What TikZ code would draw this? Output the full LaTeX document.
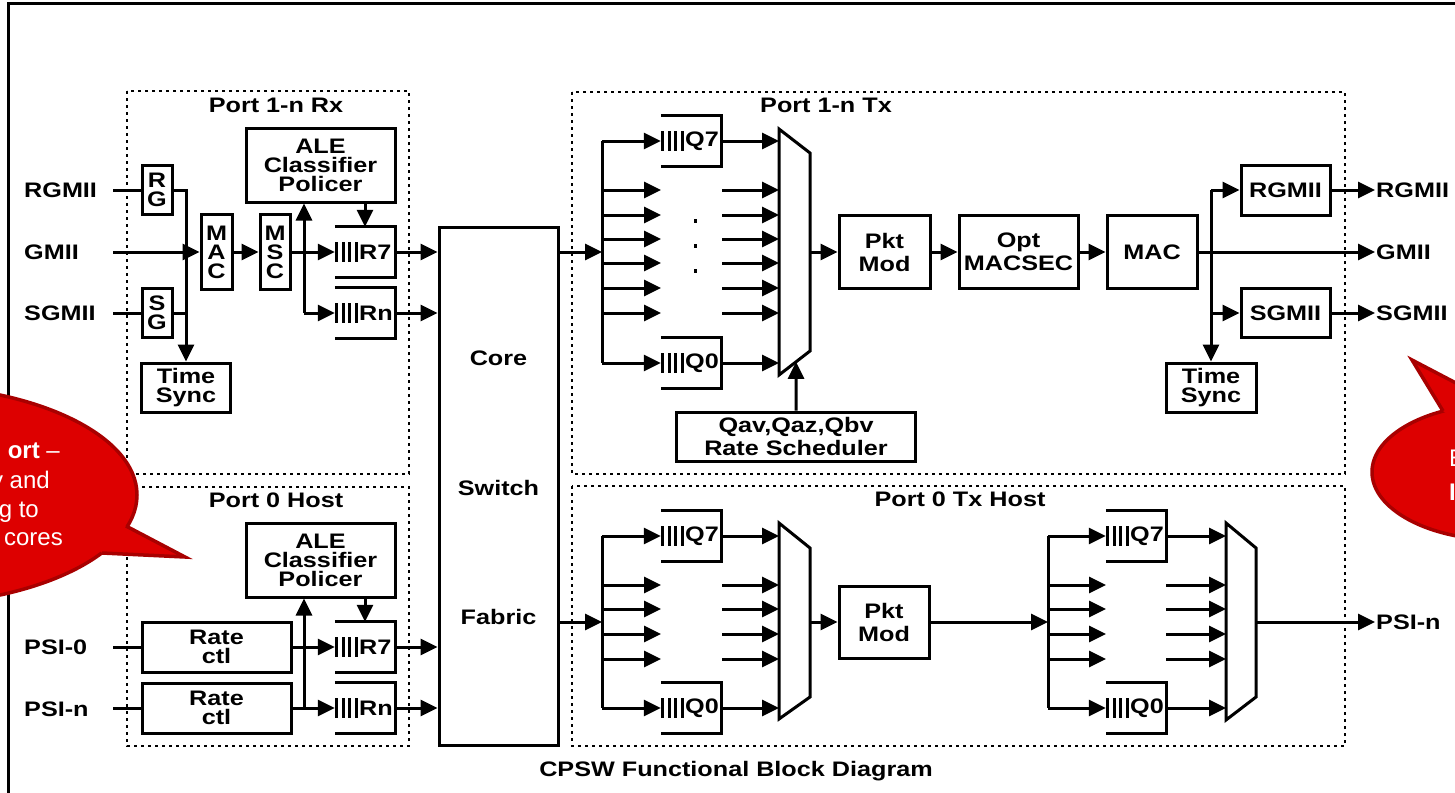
\documentclass[tikz,border=0pt]{standalone}
\usepackage{fontspec}
\setmainfont{Liberation Sans}[FakeStretch=1.2]
\newfontfamily\callfont{Liberation Sans}
\usetikzlibrary{arrows.meta,calc}
\definecolor{calloutred}{RGB}{221,0,0}
\definecolor{calloutedge}{RGB}{168,0,0}
% queue: name, left x, centre y, label
\newcommand{\fifo}[4]{%
  \node[qn] (#1) at ({#2+30},#3) {};
  \draw[ln] (#1.north west) -- (#1.north east) -- (#1.south east) -- (#1.south west);
  \foreach \k in {1.5,8,14.5,21.5}{\draw[qbar] ({#2+\k},{#3-10}) -- ({#2+\k},{#3+10});}
  \node[lbl,anchor=west] (#1lbl) at ({#2+24},#3) {#4};
}
\begin{document}
\begin{tikzpicture}[x=1pt,y=-1pt,
  ln/.style={line width=3pt},
  arr/.style={line width=3pt,-{Triangle[length=17pt,width=16pt]}},
  qbar/.style={line width=3pt},
  blk/.style={draw,line width=3pt,inner sep=0pt,align=center,font=\fontsize{21}{19}\selectfont\bfseries},
  loosesp/.style={font=\fontsize{21}{23}\selectfont\bfseries},
  sz/.style 2 args={minimum width=#1pt,minimum height=#2pt},
  lbl/.style={inner sep=0pt,font=\fontsize{21}{19}\selectfont\bfseries},
  qn/.style={inner sep=0pt,minimum width=60pt,minimum height=50pt},
  portbox/.style={line width=2.8pt,dash pattern=on 2.8pt off 4.2pt},
  redcall/.style={fill=calloutred,draw=calloutedge,line width=3.5pt},
  redfill/.style={fill=calloutred},
  rededge/.style={draw=calloutedge,line width=3.5pt,line join=miter},
  calltext/.style={text=white,inner sep=0pt,font=\callfont\fontsize{24}{29}\selectfont},
]
\useasboundingbox (0,0) rectangle (1455,792);
\clip (0,0) rectangle (1455,792);
\fill[white] (0,0) rectangle (1455,792);

% outer frame
\draw[line width=3pt] (8,4) rectangle (1520,860);

% dotted port regions
\draw[portbox] (127,91) rectangle (409,474);
\draw[portbox] (127,487) rectangle (409,746);
\draw[portbox] (572,92) rectangle (1345,474);
\draw[portbox] (572,486) rectangle (1345,746);
\node[lbl] (t1) at (276,105) {Port 1-n Rx};
\node[lbl] (t2) at (276,500) {Port 0 Host};
\node[lbl] (t3) at (826,105) {Port 1-n Tx};
\node[lbl] (t4) at (960,499) {Port 0 Tx Host};
\node[lbl] (title) at (736,771) {CPSW Functional Block Diagram};

\coordinate (lx) at (113,0);

% ---------------- Port 1-n Rx ----------------
\node[lbl,anchor=west] (inRG) at (24,190) {RGMII};
\node[lbl,anchor=west] (inGM) at (24,252) {GMII};
\node[lbl,anchor=west] (inSG) at (24,313) {SGMII};
\node[blk,sz={30}{49}] (rg) at (157,190) {R\\G};
\node[blk,sz={30}{49}] (sg) at (157,313) {S\\G};
\node[blk,sz={31}{75}] (mac) at (216.5,252) {M\\A\\C};
\node[blk,sz={30}{75}] (msc) at (275,252) {M\\S\\C};
\node[blk,sz={149}{74}] (ale1) at (320.5,165) {ALE\\Classifier\\Policer};
\node[blk,sz={89}{49}] (ts1) at (186,387.5) {Time\\Sync};
\fifo{r7a}{335}{252}{R7}
\fifo{rna}{335}{313}{Rn}

\draw[ln] (inRG.east -| lx) -- (rg.west);
\draw[ln] (inSG.east -| lx) -- (sg.west);
\draw[arr] (inGM.east -| lx) -- (mac.west);
\draw[arr] (rg.east) -| (ts1.north);
\draw[ln] (sg.east) -- (sg.east -| ts1.north);
\draw[arr] (mac.east) -- (msc.west);
\draw[arr] (msc.east) -- (r7a.west);
\coordinate (v1) at (304,0);
\draw[arr] (rna.west -| v1) -- (ale1.south -| v1);
\draw[arr] (rna.west -| v1) -- (rna.west);
\draw[arr] (ale1.south -| r7a.north) -- (r7a.north);

% ---------------- Port 0 Host ----------------
\node[lbl,anchor=west] (inP0) at (24,647) {PSI-0};
\node[lbl,anchor=west] (inPn) at (24,709) {PSI-n};
\node[blk,sz={149}{50}] (rc0) at (216.5,647) {Rate\\ctl};
\node[blk,sz={149}{50}] (rcn) at (216.5,708) {Rate\\ctl};
\node[blk,sz={149}{74}] (ale2) at (320.5,560) {ALE\\Classifier\\Policer};
\fifo{r7b}{335}{647}{R7}
\fifo{rnb}{335}{708}{Rn}

\draw[ln] (inP0.east -| lx) -- (rc0.west);
\draw[ln] (rcn.west -| lx) -- (rcn.west);
\draw[arr] (rc0.east) -- (r7b.west);
\draw[arr] (rcn.east) -- (rnb.west);
\draw[arr] (rnb.west -| v1) -- (ale2.south -| v1);
\draw[arr] (ale2.south -| r7b.north) -- (r7b.north);

% ---------------- Core switch ----------------
\node[draw,line width=3pt,sz={119}{518}] (core) at (498.5,486) {};
\node[lbl] (cw1) at (498.5,358) {Core};
\node[lbl] (cw2) at (498.5,488) {Switch};
\node[lbl] (cw3) at (498.5,617) {Fabric};
\draw[arr] (r7a.east) -- (core.west |- r7a.east);
\draw[arr] (rna.east) -- (core.west |- rna.east);
\draw[arr] (r7b.east) -- (core.west |- r7b.east);
\draw[arr] (rnb.east) -- (core.west |- rnb.east);

% ---------------- Port 1-n Tx ----------------
\coordinate (c1) at (602,252);
\fifo{q7a}{661}{141}{Q7}
\fifo{q0a}{661}{363}{Q0}
\draw[arr] (core.east |- c1) -- (c1);
\draw[ln] (q7a.west -| c1) -- (q0a.west -| c1);
\draw[arr] (q7a.west -| c1) -- (q7a.west);
\draw[arr] (q0a.west -| c1) -- (q0a.west);
\coordinate (m1a) at (779,129);
\coordinate (m1b) at (810,153);
\coordinate (m1c) at (810,351);
\coordinate (m1d) at (779,375);
\draw[ln,line join=miter] (m1a) -- (m1b) -- (m1c) -- (m1d) -- cycle;
\draw[arr] (q7a.east) -- (q7a.east -| m1a);
\draw[arr] (q0a.east) -- (q0a.east -| m1a);
\foreach \yy in {190,215,239,263,288,313}{
  \draw[arr] (602,\yy) -- (661,\yy);
  \draw[arr] (722,\yy) -- (779,\yy);
}
\foreach \yy in {221,246,271}{\fill (693.5,\yy-1.8) rectangle (697,\yy+1.8);}
\node[blk,loosesp,sz={91}{73}] (pm1) at (884.5,252) {Pkt\\Mod};
\node[blk,loosesp,sz={119}{73}] (mcs) at (1018.5,252) {Opt\\MACSEC};
\node[blk,sz={90}{73}] (mac2) at (1152,252) {MAC};
\node[blk,loosesp,sz={239}{49}] (sch) at (796,436.5) {Qav,Qaz,Qbv\\Rate Scheduler};
\draw[arr] (m1b |- pm1.west) -- (pm1.west);
\draw[arr] (pm1.east) -- (mcs.west);
\draw[arr] (mcs.east) -- (mac2.west);
\draw[arr] (sch.north) -- ($(m1c)!0.45!(m1d)$);

\node[blk,sz={89}{50}] (rgo) at (1285.5,190) {RGMII};
\node[blk,sz={89}{49}] (sgo) at (1285.5,313) {SGMII};
\node[blk,sz={90}{49}] (ts2) at (1211,387.5) {Time\\Sync};
\node[lbl,anchor=west,inner sep=1pt] (outRG) at (1375,190) {RGMII};
\node[lbl,anchor=west,inner sep=1pt] (outGM) at (1375,252) {GMII};
\node[lbl,anchor=west,inner sep=1pt] (outSG) at (1375,313) {SGMII};
\coordinate (v2) at (1211,0);
\draw[arr] (rgo.west -| v2) -- (rgo.west);
\draw[arr] (sgo.west -| v2) -- (sgo.west);
\draw[arr] (rgo.west -| v2) -- (ts2.north);
\draw[arr] (rgo.east) -- (outRG.west);
\draw[arr] (mac2.east) -- (outGM.west);
\draw[arr] (sgo.east) -- (outSG.west);

% ---------------- Port 0 Tx Host ----------------
\coordinate (c2) at (602,622);
\fifo{q7b}{661}{536}{Q7}
\fifo{q0b}{661}{708}{Q0}
\draw[arr] (core.east |- c2) -- (c2);
\draw[ln] (q7b.west -| c2) -- (q0b.west -| c2);
\draw[arr] (q7b.west -| c2) -- (q7b.west);
\draw[arr] (q0b.west -| c2) -- (q0b.west);
\coordinate (m2a) at (779,523);
\coordinate (m2b) at (810,548);
\coordinate (m2c) at (810,697);
\coordinate (m2d) at (779,719);
\draw[ln,line join=miter] (m2a) -- (m2b) -- (m2c) -- (m2d) -- cycle;
\draw[arr] (q7b.east) -- (q7b.east -| m2a);
\draw[arr] (q0b.east) -- (q0b.east -| m2a);
\node[blk,loosesp,sz={90}{72}] (pm2) at (884,622) {Pkt\\Mod};
\draw[arr] (m2b |- pm2.west) -- (pm2.west);

\coordinate (c3) at (1048,622);
\draw[arr] (pm2.east) -- (c3);
\fifo{q7c}{1106}{536}{Q7}
\fifo{q0c}{1106}{708}{Q0}
\draw[ln] (q7c.west -| c3) -- (q0c.west -| c3);
\draw[arr] (q7c.west -| c3) -- (q7c.west);
\draw[arr] (q0c.west -| c3) -- (q0c.west);
\coordinate (m3a) at (1226,523);
\coordinate (m3b) at (1256,548);
\coordinate (m3c) at (1256,697);
\coordinate (m3d) at (1226,720);
\draw[ln,line join=miter] (m3a) -- (m3b) -- (m3c) -- (m3d) -- cycle;
\draw[arr] (q7c.east) -- (q7c.east -| m3a);
\draw[arr] (q0c.east) -- (q0c.east -| m3a);
\foreach \yy in {585,609,634,659}{
  \draw[arr] (602,\yy) -- (661,\yy);
  \draw[arr] (722,\yy) -- (779,\yy);
  \draw[arr] (1048,\yy) -- (1106,\yy);
  \draw[arr] (1166,\yy) -- (1226,\yy);
}
\node[lbl,anchor=west,inner sep=1pt] (outPn) at (1375,622) {PSI-n};
\draw[arr] (m3b |- outPn.west) -- (outPn.west);

% ---------------- callouts ----------------
\draw[redcall] (-98,495) ellipse [x radius=235, y radius=110];
\fill[redfill] (185,557) -- (126,526) -- (95,515) -- (90,540) -- (102,553) -- cycle;
\draw[rededge] (126,526) -- (185,557) -- (102,553);
\node[calltext,anchor=base east] (ca1) at (60,458) {{\bfseries ort} –};
\node[calltext,anchor=base east] (ca2) at (50,488) {y and};
\node[calltext,anchor=base east] (ca3) at (39,517) {g to};
\node[calltext,anchor=base east] (ca4) at (63,545) {cores};

\draw[redcall] (1500,472) ellipse [x radius=128, y radius=68];
\fill[redfill] (1412,360) -- (1443,411) -- (1470,430) -- (1496,404) -- cycle;
\draw[rededge] (1443,411) -- (1412,360) -- (1496,404);
\node[calltext,anchor=base west] (cb1) at (1449,466) {E};
\node[calltext,anchor=base west] (cb2) at (1449,500) {\bfseries I};
\end{tikzpicture}
\end{document}
